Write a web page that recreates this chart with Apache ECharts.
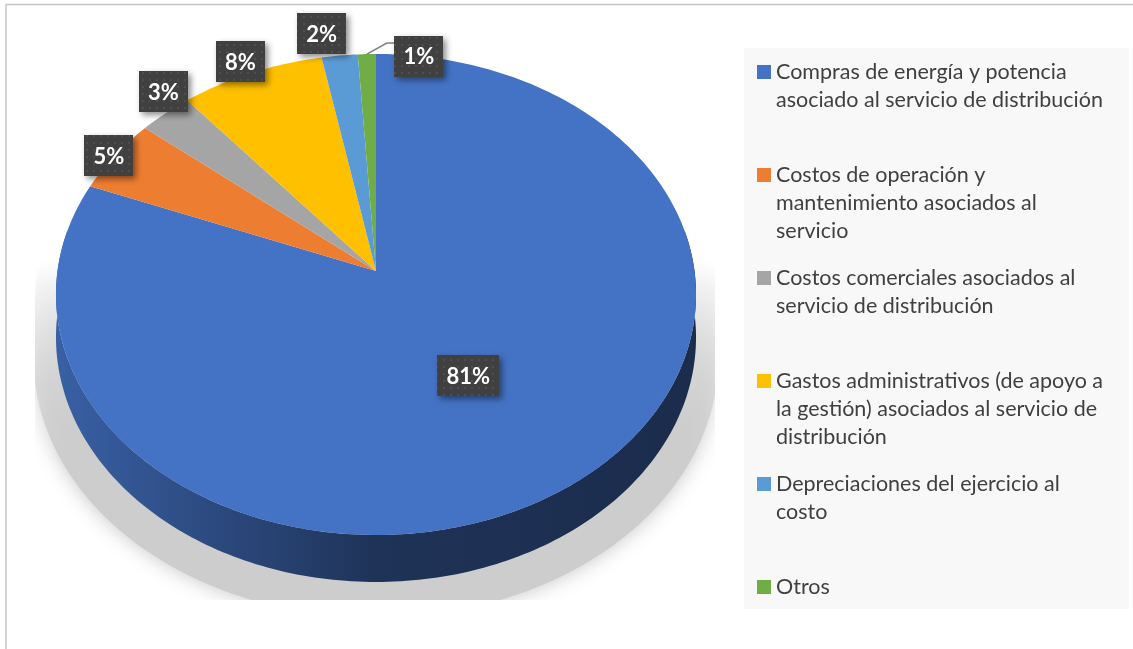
<!DOCTYPE html>
<html><head><meta charset="utf-8">
<script src="https://cdn.jsdelivr.net/npm/echarts@6/dist/echarts.min.js"></script>
<style>html,body{margin:0;padding:0;background:#fff}#c{width:1133px;height:649px}</style>
</head><body><div id="c"></div>
<script>
// ---- data ----
const categories = [
  'Compras de energía y potencia asociado al servicio de distribución',
  'Costos de operación y mantenimiento asociados al servicio',
  'Costos comerciales asociados al servicio de distribución',
  'Gastos administrativos (de apoyo a la gestión) asociados al servicio de distribución',
  'Depreciaciones del ejercicio al costo',
  'Otros'
];
const legendLabels = [
  'Compras de energía y potencia\nasociado al servicio de distribución',
  'Costos de operación y\nmantenimiento asociados al\nservicio',
  'Costos comerciales asociados al\nservicio de distribución',
  'Gastos administrativos (de apoyo a\nla gestión) asociados al servicio de\ndistribución',
  'Depreciaciones del ejercicio al\ncosto',
  'Otros'
];
const values = [81, 5, 3, 8, 2, 1];
const colors = ['#4472C4', '#ED7D31', '#A5A5A5', '#FFC000', '#5B9BD5', '#70AD47'];

// ---- layout / style ----
const PIE = {cx: 376, cy: 271, A: 318.5, B: 238.2, k: 0.0977, D: 42.4};
const WALL = [80, 280];
const labelRadius = [0.5, 1, 1, 1, 1, 1];
const labelNudge = [[-1, 2], [-6, 0], [-2, -22], [-11, -11], [-18, -22], [52, 2]];
const labelLeader = [false, false, false, false, false, true];
const LABEL_FONT = 'bold 22px Lato';

const total = values.reduce((a, b) => a + b, 0);
const startAngles = [], endAngles = [];
let acc = 0;
values.forEach(v => { startAngles.push(acc / total * 360); acc += v; endAngles.push(acc / total * 360); });

function proj(theta, r, h) {
  const t = theta * Math.PI / 180;
  const u = Math.sin(t) * r, v = -Math.cos(t) * r;
  const s = 1 / (1 - PIE.k * v);
  return [PIE.cx + PIE.A * u * s, PIE.cy + PIE.B * v * s + (h || 0) * PIE.D * s];
}
function arc(a0, a1, r, h) {
  const pts = [];
  const n = Math.max(2, Math.ceil(Math.abs(a1 - a0)));
  for (let j = 0; j <= n; j++) pts.push(proj(a0 + (a1 - a0) * j / n, r, h));
  return pts;
}
function darken(hex, f) {
  const c = echarts.color.parse(hex);
  return 'rgb(' + Math.round(c[0] * f) + ',' + Math.round(c[1] * f) + ',' + Math.round(c[2] * f) + ')';
}

// dotted pattern for label boxes
const pc = document.createElement('canvas'); pc.width = 7; pc.height = 7;
const pg = pc.getContext('2d');
pg.fillStyle = '#404040'; pg.fillRect(0, 0, 7, 7);
pg.fillStyle = '#4f4f4f'; pg.fillRect(2, 2, 2, 2);
const measureCtx = document.createElement('canvas').getContext('2d');

function sliceRender(i) {
  return function (params, api) {
    const a0 = startAngles[i], a1 = endAngles[i];
    const children = [];
    const w0 = Math.max(a0, WALL[0]), w1 = Math.min(a1, WALL[1]);
    if (w1 > w0) {
      const top = arc(w0, w1, 1, 0), bot = arc(w1, w0, 1, 1);
      children.push({
        type: 'polygon', shape: {points: top.concat(bot)},
        style: {fill: {type: 'linear', x: 0, y: 0, x2: 1, y2: 0, colorStops: [
          {offset: 0, color: darken(colors[i], 0.84)},
          {offset: 0.5, color: darken(colors[i], 0.45)},
          {offset: 1, color: darken(colors[i], 0.39)}]}}
      });
    }
    children.push({type: 'polygon', shape: {points: [[PIE.cx, PIE.cy]].concat(arc(a0, a1, 1, 0))},
      style: {fill: colors[i]}});
    return {type: 'group', children: children};
  };
}

function shadowRender(params, api) {
  const pts = [];
  for (let t = 0; t < 360; t += 2) {
    const front = t > 90 && t < 270;
    pts.push(proj(t, 1, front ? 1 : 0));
  }
  const ox = PIE.cx, oy = 54;
  const tp = pts.map(p => [ox + (p[0] - ox) * 1.07, oy + (p[1] - oy) * 1.06 + 4]);
  return {type: 'polygon', shape: {points: tp}, style: {
    fill: {type: 'linear', x: 0, y: 0, x2: 0, y2: 1, colorStops: [
      {offset: 0, color: 'rgba(205,205,205,0)'},
      {offset: 0.36, color: 'rgba(205,205,205,0)'},
      {offset: 0.52, color: 'rgba(205,205,205,0.45)'},
      {offset: 0.72, color: 'rgba(205,205,205,1)'},
      {offset: 1, color: 'rgba(205,205,205,1)'}]},
    shadowBlur: 20, shadowColor: 'rgba(190,190,190,0.9)'}};
}

function labelRender(params, api) {
  const i = params.dataIndex;
  const mid = (startAngles[i] + endAngles[i]) / 2;
  const p = proj(mid, labelRadius[i], 0);
  const c = [p[0] + labelNudge[i][0], p[1] + labelNudge[i][1]];
  const txt = Math.round(values[i] / total * 100) + '%';
  measureCtx.font = LABEL_FONT;
  const W = Math.round(measureCtx.measureText(txt).width + 18), H = 41;
  const children = [];
  if (labelLeader[i]) {
    const e = proj(mid, 1, 0);
    children.push({type: 'polyline', shape: {points: [e, [e[0] + 20, e[1] - 11], [c[0] - W / 2, e[1] - 11]]},
      style: {stroke: '#7f7f7f', lineWidth: 1.5, fill: null}});
  }
  children.push({type: 'rect', shape: {x: Math.round(c[0] - W / 2), y: Math.round(c[1] - H / 2), width: W, height: H},
    style: {fill: {image: pc, repeat: 'repeat'}, shadowBlur: 6, shadowOffsetX: 3, shadowOffsetY: 3, shadowColor: 'rgba(0,0,0,0.45)'}});
  children.push({type: 'text', x: c[0], y: c[1] + 1, style: {text: txt, font: LABEL_FONT, fill: '#ffffff', align: 'center', verticalAlign: 'middle'}});
  return {type: 'group', children: children};
}

const series = [{
  type: 'custom', name: '_shadow', coordinateSystem: 'cartesian2d', clip: true, silent: true,
  renderItem: shadowRender, data: [[0, 0]], z: 1
}];
categories.forEach((name, i) => {
  series.push({type: 'custom', name: name, coordinateSystem: 'none', silent: true,
    itemStyle: {color: colors[i]}, renderItem: sliceRender(i), data: [[i, values[i]]], z: 2});
});
series.push({type: 'custom', name: '_labels', coordinateSystem: 'none', silent: true,
  renderItem: labelRender, data: values.map((v, i) => [i, v]), z: 3});

const chart = echarts.init(document.getElementById('c'), null, {renderer: 'canvas'});
chart.setOption({
  animation: false,
  backgroundColor: '#ffffff',
  grid: {left: 35, top: 8, width: 680, height: 592, show: false},
  xAxis: {type: 'value', min: 0, max: 1, show: false},
  yAxis: {type: 'value', min: 0, max: 1, show: false},
  graphic: [
    {type: 'rect', z: 0, silent: true, shape: {x: 6, y: 4.5, width: 1200, height: 700}, style: {fill: '#ffffff', stroke: '#c6c6c6', lineWidth: 1.5}},
    {type: 'rect', z: 0, silent: true, shape: {x: 744, y: 48, width: 385, height: 561}, style: {fill: '#f8f8f8'}}
  ],
  legend: {
    orient: 'vertical', left: 757, top: 2, height: 1000, padding: 0,
    itemWidth: 14, itemHeight: 14, itemGap: 103 - 140, icon: 'rect', selectedMode: false,
    data: categories,
    formatter: function (name) {
      const lbl = legendLabels[categories.indexOf(name)];
      const n = lbl.split('\n').length;
      return '\n\n' + lbl + '\n'.repeat(3 - n);
    },
    textStyle: {fontFamily: 'Lato', fontSize: 21.5, color: '#404040', lineHeight: 28}
  },
  series: series
});
</script></body></html>
